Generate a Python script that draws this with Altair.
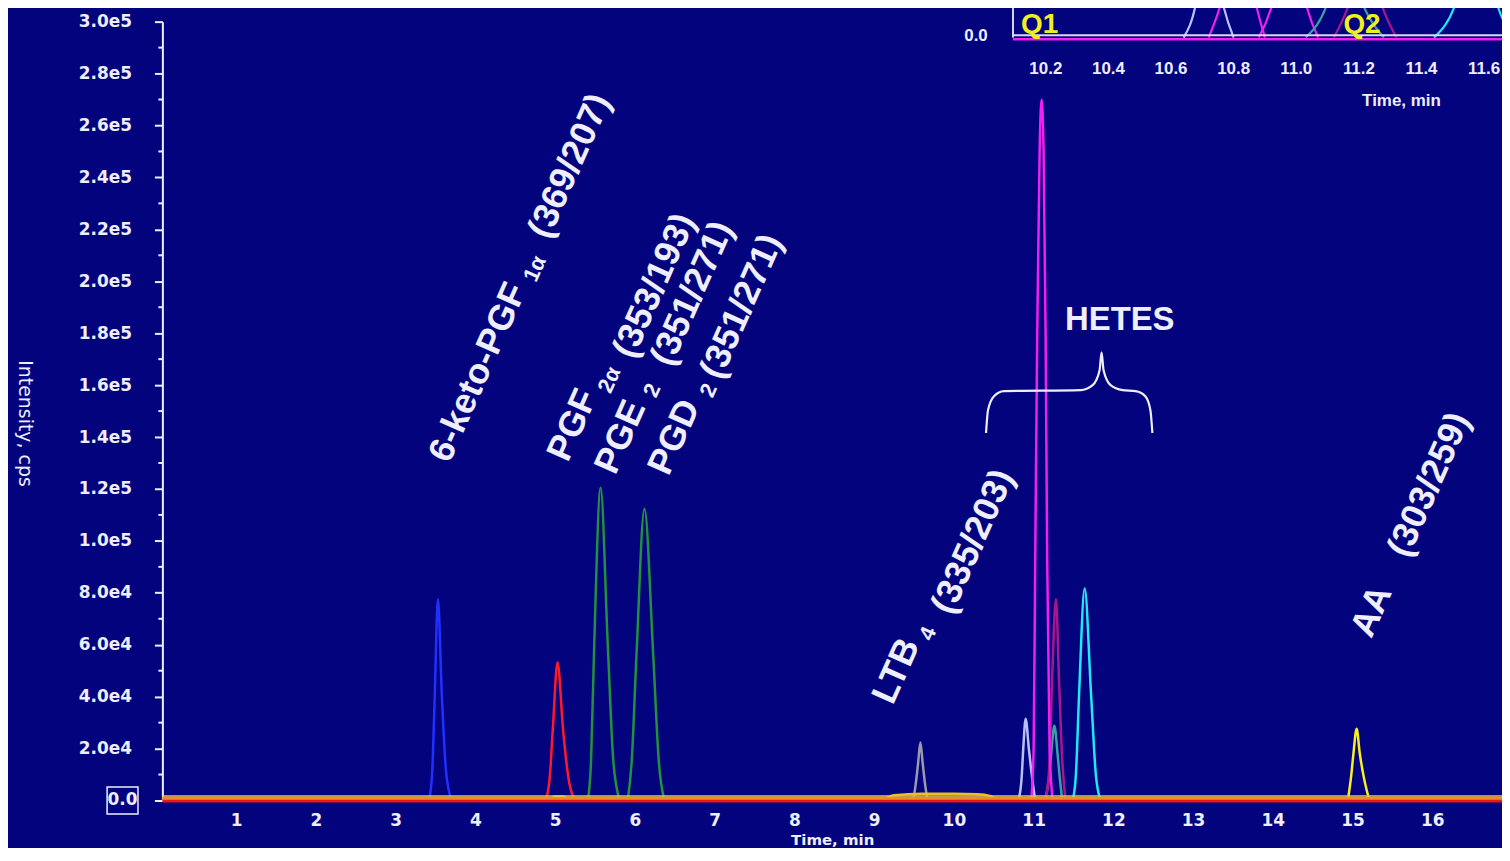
import altair as alt
import pandas as pd

BG = "#03037e"
FG = "#eeeeff"

# ---------------- axes ----------------
x_ticks = list(range(1, 17))
y_major = [0, 20000, 40000, 60000, 80000, 100000, 120000, 140000, 160000,
           180000, 200000, 220000, 240000, 260000, 280000, 300000]
y_minor = [10000, 30000, 50000, 70000, 90000, 110000, 130000, 150000,
           170000, 190000, 210000, 230000, 250000, 270000, 290000]
X_DOM = [0.075, 16.873]
Y_DOM = [0, 300000]

# ---------------- main chromatogram traces (time, min / intensity, cps) ----------------
blue_t = [3.42, 3.46, 3.49, 3.53, 3.58, 3.63, 3.70]
blue_i = [0, 12000, 40000, 77500, 40000, 12000, 0]
red_t = [4.88, 4.93, 4.97, 5.03, 5.10, 5.17, 5.25]
red_i = [0, 8000, 27000, 53300, 27000, 8000, 0]
lime_t = [4.93, 5.00, 5.10, 5.16]
lime_i = [0, 1500, 1500, 0]
green1_t = [5.41, 5.45, 5.49, 5.57, 5.66, 5.73, 5.81]
green1_i = [0, 15000, 60000, 120500, 60000, 15000, 0]
green2_t = [5.91, 5.96, 6.02, 6.12, 6.23, 6.30, 6.37]
green2_i = [0, 15000, 56000, 112400, 56000, 15000, 0]
gray_t = [9.49, 9.52, 9.55, 9.58, 9.61, 9.64, 9.67]
gray_i = [0, 6000, 14000, 22300, 14000, 6000, 0]
hump_t = [9.10, 9.25, 9.60, 10.00, 10.30, 10.45, 10.55]
hump_i = [0, 2000, 2600, 2600, 2400, 1800, 0]
lav_t = [10.81, 10.85, 10.87, 10.90, 10.94, 10.98, 11.02]
lav_i = [0, 9000, 20000, 31500, 20000, 9000, 0]
teal_t = [11.14, 11.19, 11.22, 11.26, 11.30, 11.33, 11.36]
teal_i = [0, 8000, 18000, 28800, 18000, 8000, 0]
dmag_t = [11.15, 11.20, 11.23, 11.28, 11.32, 11.36, 11.40]
dmag_i = [0, 15000, 45000, 77500, 45000, 15000, 0]
mag_t = [10.97, 11.00, 11.02, 11.045, 11.075, 11.10, 11.125, 11.15, 11.17, 11.20, 11.24]
mag_i = [0, 20000, 93000, 180000, 250000, 270000, 250000, 180000, 93000, 20000, 0]
cyan_t = [11.49, 11.53, 11.57, 11.64, 11.72, 11.78, 11.84]
cyan_i = [0, 10000, 41000, 81700, 41000, 10000, 0]
aa_t = [14.94, 14.98, 15.01, 15.05, 15.09, 15.14, 15.21]
aa_i = [0, 9000, 18000, 27600, 18000, 9000, 0]
base_t = [0.075, 16.873]
base_red_i = [0, 0]
base_orange_i = [900, 900]
base_yellow_i = [1700, 1700]

# ---------------- annotations ----------------
big_text = ["6-keto-PGF", "(369/207)", "PGF", "(353/193)", "PGE", "(351/271)",
            "PGD", "(351/271)", "LTB", "(335/203)", "AA", "(303/259)"]
big_t = [4.034, 5.183, 5.22, 6.245, 5.82, 6.72, 6.495, 7.34, 9.28, 10.24, 15.24, 15.96]
big_i = [164900, 244400, 144600, 198300, 140000, 195300, 140000, 190300,
         49900, 99700, 72900, 121600]
sub_text = ["1α", "2α", "2", "2", "4"]
sub_t = [4.746, 5.68, 6.215, 6.925, 9.675]
sub_i = [204800, 162000, 158000, 158000, 64300]
hetes_text = ["HETES"]
hetes_t = [12.08]
hetes_i = [184900]
zero_text = ["0.0"]
zero_v = [0]
brace_t = [10.403, 10.428, 10.503, 10.628, 11.59, 11.74, 11.827, 11.852,
           11.877, 11.965, 12.115, 12.277, 12.40, 12.464, 12.489]
brace_i = [141550, 150370, 155740, 157660, 158040, 159960, 165720, 172620,
           165720, 159960, 158040, 157660, 155740, 150370, 141550]

# ---------------- inset (zoom of 10.1-11.7 min), inset units ----------------
# inset time axis: 10.2 min of the inset sits at 11.153 min of the main axis,
# 1 inset-minute = 3.9254 main-minutes; 1 inset unit = 6138 cps above 293861 cps.
INSET_T0, INSET_T0_MAIN, INSET_TK = 10.2, 11.153, 3.9254
INSET_V0_MAIN, INSET_VK = 293861, 6138
in_tick_text = ["10.2", "10.4", "10.6", "10.8", "11.0", "11.2", "11.4", "11.6"]
in_tick_t = [10.2, 10.4, 10.6, 10.8, 11.0, 11.2, 11.4, 11.6]
in_tick_v = [-2.0] * 8
in_misc_text = ["0.0", "Time, min"]
in_misc_t = [9.977, 11.336]
in_misc_v = [0.125, -4.0]
in_lav_t = [10.64, 10.68, 10.72, 10.765, 10.80]
in_lav_v = [0, 2.2, 8, 2.2, 0]
in_magA_t = [10.72, 10.76, 10.82, 10.87, 10.90]
in_magA_v = [0, 2.2, 8, 2.2, 0]
in_magB_t = [10.88, 10.925, 10.98, 11.03, 11.07]
in_magB_v = [0, 2.2, 8, 2.2, 0]
in_teal_t = [11.03, 11.10, 11.15, 11.21, 11.28]
in_teal_v = [0, 2.2, 6, 2.2, 0]
in_purp_t = [11.12, 11.17, 11.22, 11.27, 11.32]
in_purp_v = [0, 2.2, 6, 2.2, 0]
in_cyan_t = [11.44, 11.51, 11.58, 11.64, 11.70]
in_cyan_v = [0, 2.2, 8, 2.2, 0]
in_frame_t = [10.095, 11.657]
in_frame_white_v = [0.15, 0.15]
in_frame_mag_v = [-0.1, -0.1]
in_edge_t = [10.095, 10.095]
in_edge_v = [0, 3]
q_text = ["Q1", "Q2"]
q_t = [10.18, 11.21]
q_v = [0.8, 0.8]

xs = alt.Scale(domain=X_DOM, nice=False, zero=False)
ys = alt.Scale(domain=Y_DOM, nice=False, zero=False)

x_axis = alt.Axis(values=x_ticks, format="d", title="Time, min", grid=False,
                  domain=False, ticks=False, tickSize=0, labelPadding=12,
                  labelFont="DejaVu Sans", labelFontSize=17, labelFontWeight="bold",
                  labelColor=FG, titleFont="DejaVu Sans", titleFontSize=15,
                  titleFontWeight="bold", titleColor=FG, titleY=44,
                  titleBaseline="alphabetic")
y_axis = alt.Axis(values=y_major,
                  labelExpr="datum.value == 0 ? '' : replace(format(datum.value, '.1e'), '+', '')",
                  title="Intensity, cps", titleAngle=90, titleX=-138, titleY=403,
                  titleAlign="center", titleBaseline="middle", titleFont="DejaVu Sans",
                  titleFontSize=19, titleFontWeight="normal", titleColor=FG,
                  labelFont="DejaVu Sans", labelFontSize=17, labelFontWeight="bold",
                  labelColor=FG, labelPadding=23, tickSize=8, tickColor=FG,
                  tickWidth=2, domainColor=FG, domainWidth=2, grid=False)

X = alt.X("t:Q", scale=xs, axis=x_axis)
Y = alt.Y("v:Q", scale=ys, axis=y_axis)

inset_calc = {
    "t": f"{INSET_T0_MAIN} + (datum.ti - {INSET_T0}) * {INSET_TK}",
    "v": f"{INSET_V0_MAIN} + datum.vi * {INSET_VK}",
}


def frame(ts, vs, inset=False):
    if inset:
        return pd.DataFrame({"ti": ts, "vi": vs, "k": list(range(len(ts)))})
    return pd.DataFrame({"t": ts, "v": vs, "k": list(range(len(ts)))})


def trace(ts, vs, color, width, interp="monotone", inset=False):
    c = alt.Chart(frame(ts, vs, inset))
    if inset:
        c = c.transform_calculate(**inset_calc)
    return c.mark_line(color=color, strokeWidth=width, interpolate=interp).encode(
        x=X, y=Y, order="k:Q")


def texts(labels, ts, vs, size, angle, color, font="Liberation Sans",
          weight="bold", inset=False):
    df = frame(ts, vs, inset)
    df["s"] = labels
    c = alt.Chart(df)
    if inset:
        c = c.transform_calculate(**inset_calc)
    return c.mark_text(font=font, fontSize=size, fontWeight=weight, angle=angle,
                       color=color, align="center", baseline="middle").encode(
        x=X, y=Y, text="s:N")


layers = [
    trace(blue_t, blue_i, "#2030ff", 2.5),
    trace(red_t, red_i, "#ff1a2a", 2.5),
    trace(lime_t, lime_i, "#b8f040", 2.5),
    trace(green1_t, green1_i, "#22903c", 2.5),
    trace(green2_t, green2_i, "#22903c", 2.5),
    trace(gray_t, gray_i, "#9a9aa8", 2.5),
    trace(hump_t, hump_i, "#e8c020", 2.5),
    trace(lav_t, lav_i, "#b8c0ff", 2.5),
    trace(teal_t, teal_i, "#3aa0a0", 2.5),
    trace(dmag_t, dmag_i, "#a8168c", 2.5),
    trace(mag_t, mag_i, "#f020f0", 2.5),
    trace(cyan_t, cyan_i, "#20e8f8", 2.5),
    trace(aa_t, aa_i, "#f8f020", 2.5),
    trace(base_t, base_red_i, "#e81818", 4, "linear"),
    trace(base_t, base_orange_i, "#f08a28", 3, "linear"),
    trace(base_t, base_yellow_i, "#f0c040", 1.5, "linear"),
    trace(brace_t, brace_i, FG, 2.2),
    alt.Chart(pd.DataFrame({"v": y_minor})).mark_rule(color=FG, strokeWidth=2).encode(
        x=alt.value(-4), x2=alt.value(0), y=Y),
    alt.Chart(pd.DataFrame({"v": [0]})).mark_point(
        shape="M-1,-0.87L1,-0.87L1,0.87L-1,0.87Z", size=961, filled=False,
        color=FG, strokeWidth=1.5, opacity=1).encode(x=alt.value(-40), y=Y),
    alt.Chart(pd.DataFrame({"v": zero_v, "s": zero_text})).mark_text(
        font="DejaVu Sans", fontSize=17, fontWeight="bold", color=FG,
        align="center", baseline="middle").encode(x=alt.value(-40), y=Y, text="s:N"),
    texts(big_text, big_t, big_i, 36, 294, FG),
    texts(sub_text, sub_t, sub_i, 22, 294, FG),
    texts(hetes_text, hetes_t, hetes_i, 33, 0, FG),
    # inset
    trace(in_lav_t, in_lav_v, "#b8c0ff", 2.2, inset=True),
    trace(in_magA_t, in_magA_v, "#f020f0", 2.2, inset=True),
    trace(in_magB_t, in_magB_v, "#f020f0", 2.2, inset=True),
    trace(in_teal_t, in_teal_v, "#3aa0a0", 2.2, inset=True),
    trace(in_purp_t, in_purp_v, "#a8168c", 2.2, inset=True),
    trace(in_cyan_t, in_cyan_v, "#20e8f8", 2.2, inset=True),
    trace(in_frame_t, in_frame_mag_v, "#f020f0", 2.5, "linear", inset=True),
    trace(in_frame_t, in_frame_white_v, "#d8d8ff", 2, "linear", inset=True),
    trace(in_edge_t, in_edge_v, "#d8d8ff", 2, "linear", inset=True),
    texts(q_text, q_t, q_v, 28, 0, "#f0f020", inset=True),
    texts(in_tick_text, in_tick_t, in_tick_v, 17, 0, FG, inset=True),
    texts(in_misc_text, in_misc_t, in_misc_v, 17, 0, FG, inset=True),
]

chart = alt.layer(*layers).properties(
    width=1345, height=782,
    padding={"left": 155, "top": 12, "right": 0, "bottom": 46},
    autosize=alt.AutoSizeParams(type="none"),
    background=BG,
).configure_view(stroke=None, fill=BG)

chart.save("out.html", embed_options={"renderer": "svg", "actions": False})
